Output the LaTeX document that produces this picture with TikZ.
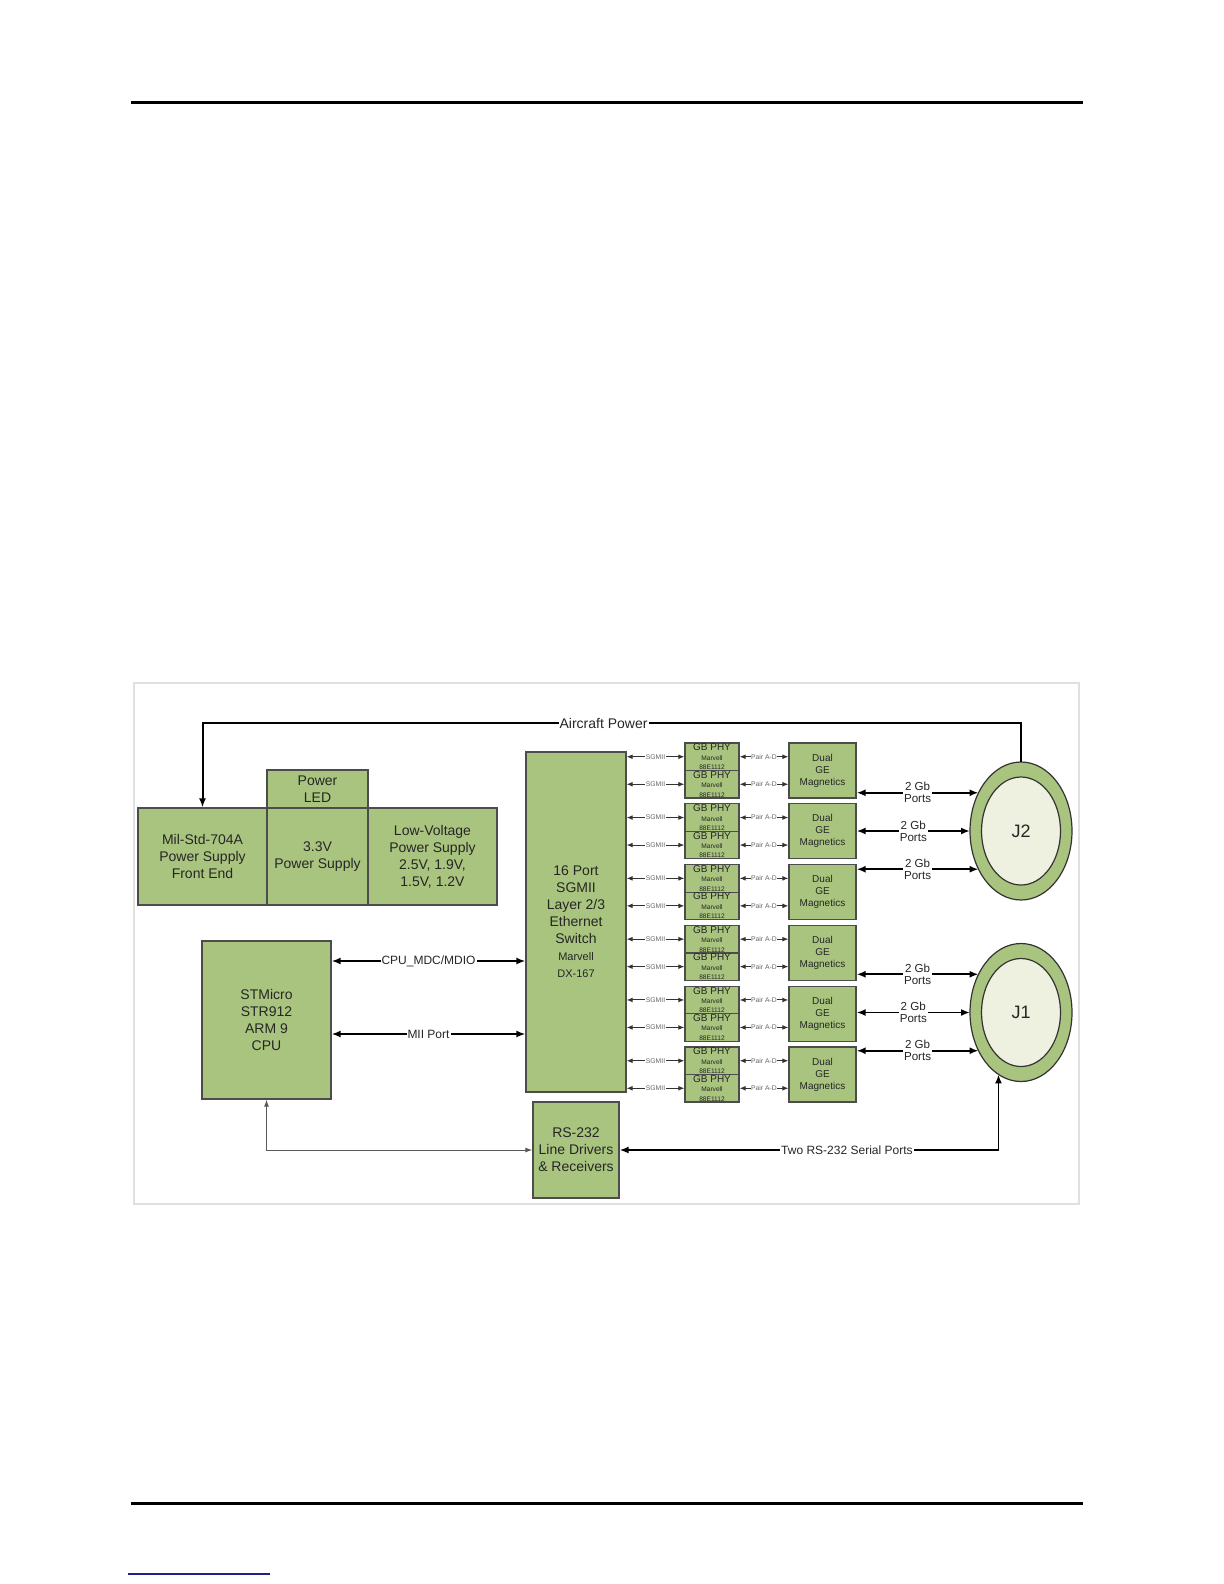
\documentclass[tikz,border=0pt]{standalone}
\usepackage{fontspec}
\setmainfont{Liberation Sans}
\usepackage{tikz}
\usetikzlibrary{arrows.meta, shapes.geometric}
\definecolor{boxgreen}{RGB}{169,196,127}
\definecolor{jackpale}{RGB}{238,241,223}
\definecolor{linkblue}{RGB}{30,30,140}

\begin{document}
\begin{tikzpicture}[x=0.5pt, y=-0.5pt,
    blk/.style={draw=black!70, fill=boxgreen, line width=0.6pt, inner sep=0pt, align=center, text=black!85, font=\fontsize{7}{8.5}\selectfont},
    phybox/.style={blk, minimum width=27pt, minimum height=13.75pt, font=\fontsize{3.3}{4.7}\selectfont},
    magbox/.style={blk, minimum width=33.5pt, minimum height=27.5pt, font=\fontsize{5}{6}\selectfont},
    jack/.style={ellipse, draw=black!80, line width=0.6pt, fill=boxgreen, outer sep=0pt, inner sep=0pt, minimum width=51pt, minimum height=69pt},
    jackin/.style={ellipse, draw=black!80, line width=0.6pt, fill=jackpale, minimum width=39.5pt, minimum height=54pt, inner sep=0pt, text=black!85, font=\fontsize{9}{10}\selectfont},
    bus/.style={line width=0.9pt, {Latex[length=4.5pt,width=3.5pt]}-{Latex[length=4.5pt,width=3.5pt]}},
    serbus/.style={line width=0.5pt, draw=black!65, {Latex[length=3.5pt,width=2.5pt]}-{Latex[length=3.5pt,width=2.5pt]}},
    sigbus/.style={line width=0.5pt, draw=black!80, {Latex[length=3pt,width=2.4pt]}-{Latex[length=3pt,width=2.4pt]}},
    lbl/.style={fill=white, inner sep=0.5pt, align=center, text=black!85, font=\fontsize{6}{6}\selectfont},
    siglbl/.style={fill=white, inner sep=0.3pt, text=black!60, font=\fontsize{3.4}{3.4}\selectfont}]
    \useasboundingbox (0,0) rectangle (1224,1584);
    \draw[line width=1.5pt] (131,103) -- (1083,103);
    \draw[line width=1.5pt] (131,1503) -- (1083,1503);
    \draw[linkblue, line width=0.6pt] (128,1574) -- (270,1574);
    \draw[black!12, line width=0.6pt] (134,683) rectangle (1079,1204);

    \node[blk, minimum width=64.5pt, minimum height=48.5pt] (mil) at (202.5,856.5) {Mil-Std-704A\\Power Supply\\Front End};
    \node[blk, minimum width=50.5pt, minimum height=19pt] (led) at (317.5,789) {Power\\LED};
    \node[blk, minimum width=50.5pt, minimum height=48.5pt] (psu) at (317.5,856.5) {3.3V\\Power Supply};
    \node[blk, minimum width=64.5pt, minimum height=48.5pt] (lvps) at (432.5,856.5) {Low-Voltage\\Power Supply\\2.5V, 1.9V,\\1.5V, 1.2V};
    \node[blk, minimum width=50pt, minimum height=170pt] (sw) at (576,922) {16 Port\\SGMII\\Layer 2/3\\Ethernet\\Switch\\{\fontsize{5.5}{8}\selectfont Marvell}\\{\fontsize{5.5}{7}\selectfont DX-167}};
    \node[blk, minimum width=64.5pt, minimum height=79pt] (cpu) at (266.5,1020) {STMicro\\STR912\\ARM 9\\CPU};
    \node[blk, minimum width=43pt, minimum height=48pt] (rs) at (576,1150) {RS-232\\Line Drivers\\\& Receivers};

    \node[jack] (j2) at (1021,831) {};
    \node[jackin] (j2in) at (j2) {J2};
    \node[jack] (j1) at (1021,1012.5) {};
    \node[jackin] (j1in) at (j1) {J1};

    \foreach \k in {0,...,5} {
        \pgfmathsetmacro\pairtop{743+60.8*\k}
        \node[magbox] (mag\k) at (822.5,\pairtop+27.5) {Dual\\GE\\Magnetics};
        \node[phybox] (phyA\k) at (712,\pairtop+13.75) {{\fontsize{5}{5}\selectfont GB PHY}\\Marvell\\88E1112};
        \node[phybox] (phyB\k) at (712,\pairtop+41.25) {{\fontsize{5}{5}\selectfont GB PHY}\\Marvell\\88E1112};
        \draw[sigbus] (phyA\k.west -| sw.east) -- node[siglbl]{SGMII} (phyA\k.west);
        \draw[sigbus] (phyB\k.west -| sw.east) -- node[siglbl]{SGMII} (phyB\k.west);
        \draw[sigbus] (phyA\k.east) -- node[siglbl]{Pair A-D} (phyA\k.east -| mag\k.west);
        \draw[sigbus] (phyB\k.east) -- node[siglbl]{Pair A-D} (phyB\k.east -| mag\k.west);
    }
    \foreach \k/\j/\ang in {0/j2/138, 1/j2/180, 2/j2/222, 3/j1/138, 4/j1/180, 5/j1/222}
        \draw[bus] (\j.\ang -| mag\k.east) -- node[lbl, font=\fontsize{5.8}{6}\selectfont]{2 Gb\\Ports} (\j.\ang);

    \coordinate (pwr) at (0,723);
    \coordinate (mdc) at (0,961);
    \coordinate (mii) at (0,1034);
    \draw[line width=1pt, -{Latex[length=4.5pt,width=3.5pt]}] (j2.north) -- (j2.north |- pwr) -- node[lbl, pos=0.51, font=\fontsize{7}{7}\selectfont]{Aircraft Power} (mil.north |- pwr) -- (mil.north);
    \draw[bus] (cpu.east |- mdc) -- node[lbl]{CPU\_MDC/MDIO} (sw.west |- mdc);
    \draw[bus] (cpu.east |- mii) -- node[lbl]{MII Port} (sw.west |- mii);
    \draw[serbus] (cpu.south) |- (rs.west);
    \draw[bus] (rs.east) -| node[lbl, pos=0.3]{Two RS-232 Serial Ports} (j1.250);
\end{tikzpicture}
\end{document}
